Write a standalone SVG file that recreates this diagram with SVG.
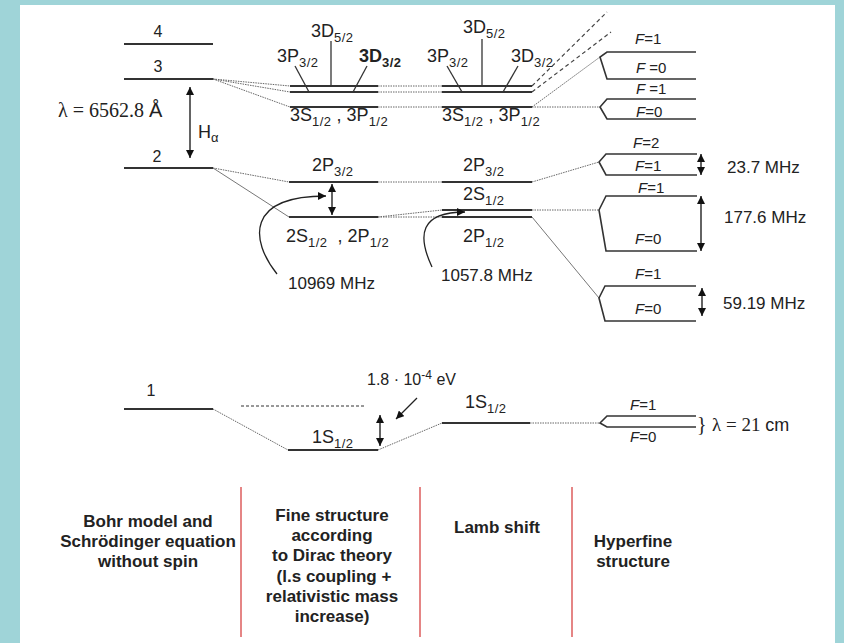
<svg xmlns="http://www.w3.org/2000/svg" width="844" height="643" viewBox="0 0 844 643">
<style>
.lv{stroke:#333;stroke-width:2;fill:none}
.hf{stroke:#333;stroke-width:1.6;fill:none}
.dot{stroke:#666;stroke-width:1;stroke-dasharray:1.5 1;fill:none}
.thin{stroke:#777;stroke-width:1;fill:none}
.dash{stroke:#444;stroke-width:1.2;stroke-dasharray:4 3;fill:none}
.ptr{stroke:#333;stroke-width:1.3;fill:none}
.arr{stroke:#222;stroke-width:1.4;fill:none;marker-start:url(#ah);marker-end:url(#ah)}
.arr1{stroke:#222;stroke-width:1.3;fill:none;marker-end:url(#ah)}
.red{stroke:#e58585;stroke-width:2}
text{font-family:"Liberation Sans",Arial,sans-serif;fill:#222}
.l{font-size:18px}
.s{font-size:13px;letter-spacing:0.5px}
.f{font-size:15px}
.m{font-size:17px}
.n{font-size:16px}
.serif{font-family:"Liberation Serif","Times New Roman",serif}
.cap{font-size:17px;font-weight:bold;text-anchor:middle}
</style>
<defs>
<marker id="ah" viewBox="0 0 10 10" refX="10" refY="5" markerWidth="8" markerHeight="8" markerUnits="userSpaceOnUse" orient="auto-start-reverse">
<path d="M0,0 L10,5 L0,10 z" fill="#111"/>
</marker>
</defs>
<rect x="0" y="0" width="844" height="643" fill="#9fd4d8"/>
<rect x="20" y="5" width="815" height="638" fill="#ffffff"/>

<g id="connectors">
<path class="dot" d="M213,79 L290,86 M213,79 L290,92 M213,79 L290,107"/>
<path class="dot" d="M378,86 L442,86 M378,92 L442,92 M378,107 L442,107"/>
<path class="dash" d="M532,86 L607,12 M532,92 L611,32"/>
<path class="dot" d="M532,107 L600,57 M532,107 L600,107"/>
<path class="dot" d="M213,168 L289,182"/>
<path class="thin" d="M213,168 L289,217"/>
<path class="dot" d="M378,182 L442,182 M378,217 L442,210 M378,217 L442,217"/>
<path class="dot" d="M532,182 L599,162 M532,210 L599,210"/>
<path class="thin" d="M532,217 L599,298"/>
<path class="dot" d="M213,409 L288,450 M378,450 L442,423 M530,423 L600,423"/>
</g>

<g id="bohr-4"><line class="lv" x1="124" y1="44" x2="213" y2="44"/><text class="n" x="158" y="37" text-anchor="middle">4</text></g>
<g id="bohr-3"><line class="lv" x1="124" y1="79" x2="213" y2="79"/><text class="n" x="158" y="72" text-anchor="middle">3</text></g>
<g id="bohr-2"><line class="lv" x1="124" y1="168" x2="213" y2="168"/><text class="n" x="157" y="162" text-anchor="middle">2</text></g>
<g id="bohr-1"><line class="lv" x1="124" y1="409" x2="213" y2="409"/><text class="n" x="151" y="396" text-anchor="middle">1</text></g>

<g id="halpha">
<line class="arr" x1="190" y1="87" x2="190" y2="158"/>
<text x="198" y="138" style="font-size:18px">H<tspan style="font-size:13px" dy="4">α</tspan></text>
<text class="serif" x="58" y="117" style="font-size:20px">λ = 6562.8 <tspan style="font-family:'Liberation Sans',Arial,sans-serif">Å</tspan></text>
</g>

<g id="fine-3">
<line class="lv" x1="290" y1="86" x2="378" y2="86"/>
<line class="lv" x1="290" y1="92" x2="378" y2="92"/>
<line class="lv" x1="290" y1="107" x2="378" y2="107"/>
<line class="ptr" x1="331" y1="41" x2="331" y2="86"/>
<line class="ptr" x1="295" y1="66" x2="309" y2="92"/>
<line class="ptr" x1="367" y1="66" x2="353" y2="92"/>
<text class="l" x="311" y="37">3D<tspan class="s" dy="5">5/2</tspan></text>
<text class="l" x="277" y="62">3P<tspan class="s" dy="5">3/2</tspan></text>
<text class="l" x="359" y="62" style="font-weight:bold">3D<tspan class="s" dy="5">3/2</tspan></text>
<text class="l" x="290" y="121">3S<tspan class="s" dy="5">1/2</tspan><tspan dy="-5"> , 3P</tspan><tspan class="s" dy="5">1/2</tspan></text>
</g>

<g id="lamb-3">
<line class="lv" x1="442" y1="86" x2="532" y2="86"/>
<line class="lv" x1="442" y1="92" x2="532" y2="92"/>
<line class="lv" x1="442" y1="107" x2="532" y2="107"/>
<line class="ptr" x1="482" y1="39" x2="482" y2="86"/>
<line class="ptr" x1="447" y1="66" x2="462" y2="92"/>
<line class="ptr" x1="518" y1="66" x2="503" y2="92"/>
<text class="l" x="463" y="33">3D<tspan class="s" dy="5">5/2</tspan></text>
<text class="l" x="427" y="62">3P<tspan class="s" dy="5">3/2</tspan></text>
<text class="l" x="511" y="62">3D<tspan class="s" dy="5">3/2</tspan></text>
<text class="l" x="442" y="121">3S<tspan class="s" dy="5">1/2</tspan><tspan dy="-5"> , 3P</tspan><tspan class="s" dy="5">1/2</tspan></text>
</g>

<g id="hfs-3a">
<path class="hf" d="M696,52 L607,52 L600,57 L607,79 L696,79"/>
<text class="f" x="635" y="44"><tspan font-style="italic">F</tspan>=1</text>
<text class="f" x="636" y="73"><tspan font-style="italic">F</tspan> =0</text>
</g>
<g id="hfs-3b">
<path class="hf" d="M696,99 L607,99 L600,107 L607,119 L696,119"/>
<text class="f" x="636" y="94"><tspan font-style="italic">F</tspan> =1</text>
<text class="f" x="636" y="117"><tspan font-style="italic">F</tspan>=0</text>
</g>

<g id="fine-2">
<line class="lv" x1="289" y1="182" x2="378" y2="182"/>
<line class="lv" x1="289" y1="217" x2="378" y2="217"/>
<line class="arr" x1="332" y1="184" x2="332" y2="215"/>
<text class="l" x="312" y="171">2P<tspan class="s" dy="5">3/2</tspan></text>
<text class="l" x="286" y="242">2S<tspan class="s" dy="5">1/2</tspan><tspan dx="5" dy="-5"> , 2P</tspan><tspan class="s" dy="5">1/2</tspan></text>
<path class="arr1" d="M277,274 C250,240 246,196 326,196"/>
<text class="m" x="288" y="289">10969 MHz</text>
</g>

<g id="lamb-2">
<line class="lv" x1="442" y1="182" x2="532" y2="182"/>
<line class="lv" x1="442" y1="210" x2="532" y2="210"/>
<line class="lv" x1="442" y1="217" x2="532" y2="217"/>
<text class="l" x="463" y="171">2P<tspan class="s" dy="5">3/2</tspan></text>
<text class="l" x="463" y="200">2S<tspan class="s" dy="5">1/2</tspan></text>
<text class="l" x="463" y="242">2P<tspan class="s" dy="5">1/2</tspan></text>
<path class="arr1" d="M432,267 C417,235 420,212 465,212"/>
<text class="m" x="441" y="281">1057.8 MHz</text>
</g>

<g id="hfs-2p32">
<path class="hf" d="M697,154 L606,154 L599,162 L606,175 L697,175"/>
<line class="arr" x1="701" y1="154" x2="701" y2="175"/>
<text class="f" x="633" y="148"><tspan font-style="italic">F</tspan>=2</text>
<text class="f" x="635" y="171"><tspan font-style="italic">F</tspan>=1</text>
<text class="m" x="727" y="173">23.7 MHz</text>
</g>
<g id="hfs-2s12">
<path class="hf" d="M697,196 L606,196 L599,210 L606,251 L697,251"/>
<line class="arr" x1="701" y1="196" x2="701" y2="251"/>
<text class="f" x="638" y="193"><tspan font-style="italic">F</tspan>=1</text>
<text class="f" x="635" y="244"><tspan font-style="italic">F</tspan>=0</text>
<text class="m" x="724" y="223">177.6 MHz</text>
</g>
<g id="hfs-2p12">
<path class="hf" d="M696,286 L605,286 L599,298 L605,321 L696,321"/>
<line class="arr" x1="702" y1="288" x2="702" y2="316"/>
<text class="f" x="635" y="279"><tspan font-style="italic">F</tspan>=1</text>
<text class="f" x="635" y="314"><tspan font-style="italic">F</tspan>=0</text>
<text class="m" x="723" y="309">59.19 MHz</text>
</g>

<g id="fine-1">
<line x1="241" y1="406" x2="366" y2="406" style="stroke:#333;stroke-width:1;stroke-dasharray:3 2"/>
<line class="lv" x1="288" y1="450" x2="378" y2="450"/>
<line class="arr" x1="380" y1="415" x2="380" y2="446"/>
<line class="arr1" x1="417" y1="398" x2="396" y2="419"/>
<text class="l" x="312" y="443">1S<tspan class="s" dy="5">1/2</tspan></text>
<text class="n" x="367" y="385">1.8 · 10<tspan style="font-size:12px" dy="-6">-4</tspan><tspan dy="6"> eV</tspan></text>
</g>
<g id="lamb-1">
<line class="lv" x1="442" y1="423" x2="530" y2="423"/>
<text class="l" x="465" y="408">1S<tspan class="s" dy="5">1/2</tspan></text>
</g>
<g id="hfs-1">
<path class="hf" d="M696,416 L607,416 L600,423 L607,427 L696,427"/>
<text class="f" x="630" y="410"><tspan font-style="italic">F</tspan>=1</text>
<text class="f" x="630" y="442"><tspan font-style="italic">F</tspan>=0</text>
<text class="serif" x="697" y="431" style="font-size:20px">}</text>
<text class="serif" x="712" y="431" style="font-size:19px">λ = 21 <tspan style="font-family:'Liberation Sans',Arial,sans-serif;font-size:18px">cm</tspan></text>
</g>

<g id="separators">
<line class="red" x1="241" y1="487" x2="241" y2="637"/>
<line class="red" x1="420" y1="487" x2="420" y2="637"/>
<line class="red" x1="572" y1="487" x2="572" y2="637"/>
</g>
<g id="cap-bohr">
<text class="cap" x="148" y="527">Bohr model and</text>
<text class="cap" x="148" y="547">Schrödinger equation</text>
<text class="cap" x="148" y="567">without spin</text>
</g>
<g id="cap-fine">
<text class="cap" x="332" y="521">Fine structure</text>
<text class="cap" x="332" y="541">according</text>
<text class="cap" x="332" y="561">to Dirac theory</text>
<text class="cap" x="334" y="582">(l.s coupling +</text>
<text class="cap" x="332" y="602">relativistic mass</text>
<text class="cap" x="332" y="622">increase)</text>
</g>
<g id="cap-lamb"><text class="cap" x="497" y="533">Lamb shift</text></g>
<g id="cap-hfs">
<text class="cap" x="633" y="547">Hyperfine</text>
<text class="cap" x="633" y="567">structure</text>
</g>
</svg>
